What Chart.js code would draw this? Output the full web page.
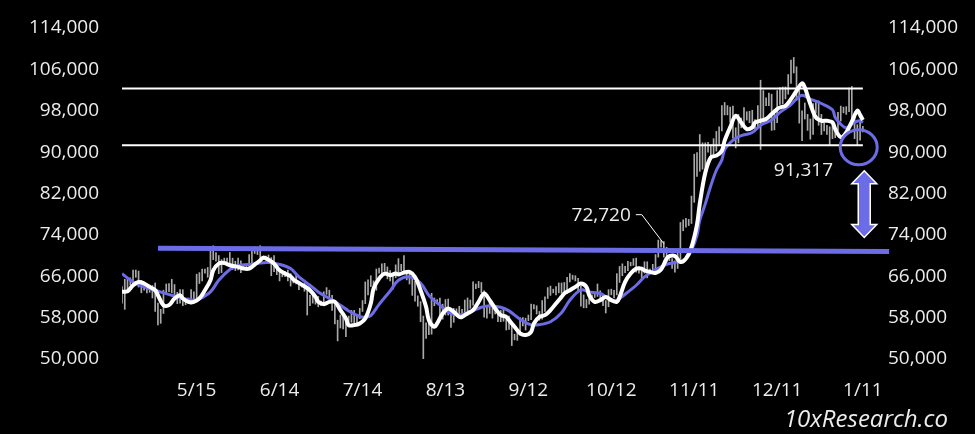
<!DOCTYPE html>
<html lang="en">
<head>
  <meta charset="UTF-8">
  <title>BTC range and support</title>
  <script src="https://cdn.jsdelivr.net/npm/chart.js"></script>
  <style>
    * { margin: 0; padding: 0; box-sizing: border-box; }
    body { background: #000; width: 975px; height: 434px; overflow: hidden; }
    .chart-box { position: relative; width: 975px; height: 434px; }
  </style>
</head>
<body>
  <div class="chart-box"><canvas id="btc"></canvas></div>

  <script>
    // x = days since 2024-04-18, one bar per day up to 2025-01-11
    const tickLabels = ['5/15', '6/14', '7/14', '8/13', '9/12', '10/12', '11/11', '12/11', '1/11'];
    const tickDays = [27, 57, 87, 117, 147, 177, 207, 237, 268];

    const lows = [
      60800,59600,63100,64300,64500,65800,63900,62800,63300,62800,62900,61800,59200,
      56600,56900,58800,62600,63000,62800,62200,60700,60800,60300,60500,60800,60600,61100,61400,64600,65100,66600,65800,66100,69200,68900,66500,66700,68500,68200,68300,67300,67100,67200,66700,
      67400,67300,67600,68500,70400,70200,68600,69200,69100,69200,66100,66900,66300,65100,65900,65900,65100,64100,64700,64500,63400,63900,63100,58500,60300,60800,60600,60100,60300,60600,
      62500,61800,59400,56800,53500,56000,55800,54300,56300,57100,56500,56600,57800,59200,60700,62400,64000,63300,63300,66600,65800,67000,65500,65100,63500,65700,66700,67100,66700,65300,64500,
      62300,61200,60200,57200,49500,54000,54700,54800,60300,60700,58400,57700,58500,58500,56100,57100,58800,58300,57900,58600,58800,59800,60400,63600,63800,62800,58100,57900,58800,57900,58700,
      57200,57200,57300,55600,55700,52600,53700,53600,54600,56400,55600,57400,57600,59700,58700,57500,57700,59200,61700,62300,62800,62400,62800,62700,62700,62700,64900,65400,65100,62900,
      60200,59900,59900,60600,61700,61900,62100,61800,60300,58900,60100,62400,61800,62400,64800,66100,66700,67100,68000,68100,66800,66600,65300,66600,65700,66500,66800,67400,69700,71600,69700,
      68800,69000,67500,66800,67500,69300,74800,75500,75800,76200,80300,85300,86300,86700,87100,90000,88700,89400,90200,91500,94100,97200,97200,95800,92700,90800,91800,94700,95100,96200,
      95700,94500,94000,94700,90500,96100,99000,99000,94200,94300,95700,99200,99300,100300,101200,103300,105300,100000,95600,92200,96400,94200,92500,93400,97600,95200,93400,94100,93400,91300,92600,
      92800,94200,96000,97600,97300,97800,96200,92600,91300,92300,93900
    ];
    const highs = [
      64000,65400,65400,65700,67200,67200,67000,65200,64800,63900,64300,64200,64700,
      60800,59600,63300,64500,64600,65400,64400,62900,63400,63400,61400,61800,63400,63000,66400,66700,67400,67400,67700,71500,71900,70600,70000,69200,69500,69500,70600,69500,68900,69500,69000,
      67900,68400,70200,71000,71700,71600,71900,69600,69900,70100,69600,70000,68400,67300,66400,66900,67200,66500,65700,66500,65000,64500,64600,63400,62300,62400,62300,62100,61200,63000,
      63800,63300,62300,60500,57500,58500,58400,58100,58300,59400,59400,58500,59800,61300,64900,65300,66100,65100,67400,67600,68400,68500,67800,67100,66100,68200,69400,68300,70000,66900,66800,
      65600,65000,62200,61100,58300,57000,57700,62700,61800,61500,61800,60600,61500,61600,59800,59800,59700,60200,59600,61400,61800,61400,64900,64500,65000,64800,63200,60200,61100,59900,59400,
      59000,59400,59800,58500,58300,56900,54800,55200,58000,58000,57900,58500,60600,60500,60300,59200,61300,62000,63800,64100,63500,64000,64700,64700,64800,65800,66500,66200,66100,65600,
      64100,62400,61500,62400,62400,62900,64500,63200,62500,61300,63400,63500,63300,66500,67900,68400,67900,68900,68700,69400,69500,67800,67500,68800,68800,67400,68300,70200,73000,72900,72700,
      71600,70000,69400,69000,70500,76400,76900,77200,77000,81500,89600,89900,93400,91800,91800,91900,91400,92600,94000,94900,99000,99600,99000,98700,98900,94700,97300,96600,98600,97800,
      97900,98100,96300,99000,103900,101900,100500,101400,101200,98200,101900,102500,102600,102600,105000,107800,108300,106500,102800,98000,99500,97300,96400,99400,99900,99900,97300,95600,95200,94900,96100,
      94900,97700,98900,98700,98800,102400,102700,97200,95300,95800,95000
    ];

    // [day, value] read along the white (fast) and blue (slow) averages
    const fastLine = [
      [0,63000],[2,63100],[4,64260],[6,64900],[8,64600],[10,63940],[12,63300],[13,62340],[15,60410],[17,60410],
      [19,61700],[21,62340],[22,61700],[24,61050],[26,61050],[28,61700],[30,63300],[32,65230],[33,67150],[35,68440],
      [37,68570],[39,68120],[41,67920],[42,67800],[44,67480],[46,67480],[48,68250],[50,69080],[51,69600],[53,69210],
      [55,68440],[57,67150],[59,66520],[61,66000],[62,65360],[64,64710],[66,64070],[68,63300],[70,62010],[71,61050],
      [73,60600],[75,61050],[77,61050],[79,59450],[81,57840],[82,56550],[84,56550],[86,56880],[88,57840],[90,60740],
      [91,63620],[93,65550],[95,66520],[97,66190],[99,66520],[100,66350],[102,66700],[104,66840],[106,65870],[108,63300],
      [110,60080],[111,57520],[113,56230],[114,56880],[116,58810],[118,59770],[120,59120],[122,58150],[123,58150],[125,58810],
      [127,59450],[129,61050],[131,62660],[133,61370],[135,59770],[137,58480],[139,58150],[140,57520],[142,56230],[144,54950],
      [146,54630],[148,55260],[149,56880],[151,58150],[153,58480],[155,59450],[157,60740],[159,62010],[160,62660],[162,63300],
      [164,63940],[166,64590],[168,63940],[169,62340],[171,61050],[173,61370],[175,62010],[177,61370],[179,61050],[180,62010],
      [182,64900],[184,66520],[186,67480],[188,67480],[189,67150],[191,66840],[193,66640],[195,67300],[197,69410],[198,69900],
      [200,69900],[202,68760],[204,69400],[206,71650],[208,76000],[209,80000],[211,86000],[213,89000],[215,89320],[217,90280],
      [218,92210],[220,94780],[222,97030],[224,95740],[226,94460],[228,94780],[229,95740],[231,96070],[233,96390],[235,97360],
      [237,98320],[238,98630],[240,98960],[242,100250],[244,101850],[246,103300],[247,102490],[249,99300],[251,96700],[253,96070],
      [255,96070],[257,95740],[258,94460],[260,92900],[262,93800],[264,95900],[266,98000],[267,97200],[268,96200]
    ];
    const slowLine = [
      [0,66500],[4,64900],[8,63940],[12,63300],[15,62790],[19,62140],[22,61700],[26,61370],[28,61600],[32,62970],
      [35,65230],[39,67300],[42,68100],[46,68250],[50,68570],[53,68650],[57,68300],[61,67480],[64,65870],[68,64260],
      [71,62970],[75,61700],[79,60410],[82,59280],[86,58220],[88,58100],[90,58400],[93,60560],[97,63140],[100,65230],
      [104,65900],[108,64700],[111,62300],[115,60400],[119,58800],[122,58500],[126,59100],[130,60000],[133,60300],[137,60000],
      [140,59300],[144,57700],[148,56600],[151,56650],[155,57200],[159,58960],[162,61370],[166,63360],[169,62970],[173,62660],
      [177,61370],[179,61370],[182,62530],[186,64260],[189,65870],[193,67290],[197,68310],[200,68670],[204,69400],[206,71000],
      [208,73900],[209,76800],[211,80000],[213,83500],[215,86500],[217,88500],[218,90500],[220,91800],[222,92700],[224,93200],
      [228,93800],[231,95200],[235,96200],[238,97700],[242,99200],[244,100300],[246,101000],[249,100250],[253,99400],[257,98200],
      [258,96700],[260,95400],[262,94700],[264,95400],[266,96000],[267,96070],[268,95740]
    ];

    // range lines and the support line
    const rangeLevels = [102300, 91317];
    const rangeSpan = [0, 268];
    const supportDays = [13, 277.5];
    const supportVals = [71400, 70800];

    const BLUE = '#6c6ce6';
    const TEXT = '#ececec';
    const FONT = '"Open Sans", sans-serif';

    const toXY = arr => arr.map(p => ({ x: p[0], y: p[1] }));

    const candles = lows.map((lo, i) => ({ x: i, y: [lo, highs[i]] }));

    const rangeSets = rangeLevels.map(v => ({
      type: 'line',
      data: rangeSpan.map(d => ({ x: d, y: v })),
      borderColor: '#ffffff',
      borderWidth: 2,
      pointRadius: 0,
      order: 4
    }));

    const notes = {
      id: 'notes',
      afterDatasetsDraw(chart) {
        const { ctx } = chart;
        const x = chart.scales.x, y = chart.scales.y;
        ctx.save();

        // 72,720 callout with leader
        const ex = x.getPixelForValue(196), ey = y.getPixelForValue(72300);
        const bx = ex - 22, by = ey - 29;
        ctx.strokeStyle = '#ffffff';
        ctx.lineWidth = 1;
        ctx.beginPath();
        ctx.moveTo(bx - 6, by);
        ctx.lineTo(bx, by);
        ctx.lineTo(ex, ey);
        ctx.stroke();
        ctx.fillStyle = TEXT;
        ctx.font = '19px ' + FONT;
        ctx.textAlign = 'right';
        ctx.textBaseline = 'middle';
        ctx.fillText('72,720', bx - 11, by + 1);

        // 91,317 label under the lower range line
        ctx.textAlign = 'center';
        ctx.fillText('91,317', x.getPixelForValue(246.5), y.getPixelForValue(rangeLevels[1]) + 25);

        // circle around the latest price
        ctx.strokeStyle = BLUE;
        ctx.lineWidth = 3;
        ctx.beginPath();
        ctx.ellipse(x.getPixelForValue(266.5), y.getPixelForValue(rangeLevels[1]) + 2, 18.5, 17.5, 0, 0, Math.PI * 2);
        ctx.stroke();

        // double arrow down to support
        const cx = x.getPixelForValue(268.5);
        const top = y.getPixelForValue(86400), bot = y.getPixelForValue(73500);
        const hw = 12.5, sw = 6, hh = 13;
        ctx.beginPath();
        ctx.moveTo(cx, top);
        ctx.lineTo(cx + hw, top + hh);
        ctx.lineTo(cx + sw, top + hh);
        ctx.lineTo(cx + sw, bot - hh);
        ctx.lineTo(cx + hw, bot - hh);
        ctx.lineTo(cx, bot);
        ctx.lineTo(cx - hw, bot - hh);
        ctx.lineTo(cx - sw, bot - hh);
        ctx.lineTo(cx - sw, top + hh);
        ctx.lineTo(cx - hw, top + hh);
        ctx.closePath();
        ctx.fillStyle = BLUE;
        ctx.fill();
        ctx.strokeStyle = '#ffffff';
        ctx.lineWidth = 1.5;
        ctx.stroke();

        // watermark
        ctx.fillStyle = TEXT;
        ctx.font = 'italic 24px ' + FONT;
        ctx.textAlign = 'right';
        ctx.textBaseline = 'alphabetic';
        ctx.fillText('10xResearch.co', 948, 427);
        ctx.restore();
      }
    };

    // lineHeight kept small so the tick padding does not push the plot top down
    const axisFont = { family: FONT, size: 19, lineHeight: 0.5 };

    new Chart(document.getElementById('btc'), {
      type: 'line',
      data: {
        datasets: [
          {
            type: 'line',
            data: supportDays.map((d, i) => ({ x: d, y: supportVals[i] })),
            borderColor: BLUE,
            borderWidth: 5,
            pointRadius: 0,
            clip: false,
            order: 1
          },
          {
            type: 'line',
            data: toXY(fastLine),
            borderColor: '#ffffff',
            borderWidth: 4,
            pointRadius: 0,
            tension: 0.35,
            order: 2
          },
          ...rangeSets,
          {
            type: 'line',
            data: toXY(slowLine),
            borderColor: BLUE,
            borderWidth: 3,
            pointRadius: 0,
            tension: 0.35,
            order: 5
          },
          {
            type: 'bar',
            data: candles,
            backgroundColor: 'rgba(225,225,225,0.75)',
            barThickness: 1,
            grouped: false,
            order: 10
          }
        ]
      },
      options: {
        responsive: true,
        maintainAspectRatio: false,
        animation: false,
        events: [],
        layout: { padding: { top: 28, right: 0, bottom: 0, left: 0 } },
        plugins: {
          legend: { display: false },
          tooltip: { enabled: false }
        },
        scales: {
          x: {
            type: 'linear',
            min: 0,
            max: 274.2,
            offset: false,
            grid: { display: false, drawTicks: false },
            border: { display: false },
            afterBuildTicks: scale => { scale.ticks = tickDays.map(v => ({ value: v })); },
            afterFit: scale => { scale.height = 75; },
            ticks: {
              autoSkip: false,
              maxRotation: 0,
              padding: 20,
              color: TEXT,
              font: { family: FONT, size: 19 },
              callback: (v, i) => tickLabels[i]
            }
          },
          y: {
            position: 'left',
            min: 50000,
            max: 114000,
            grid: { display: false, drawTicks: false },
            border: { display: false },
            afterFit: scale => { scale.width = 122; },
            ticks: {
              stepSize: 8000,
              padding: 23,
              color: TEXT,
              font: axisFont,
              callback: v => v.toLocaleString('en-US')
            }
          },
          y2: {
            position: 'right',
            min: 50000,
            max: 114000,
            grid: { display: false, drawTicks: false },
            border: { display: false },
            afterFit: scale => { scale.width = 95; },
            ticks: {
              stepSize: 8000,
              padding: 8,
              color: TEXT,
              font: axisFont,
              callback: v => v.toLocaleString('en-US')
            }
          }
        }
      },
      plugins: [notes]
    });
  </script>
</body>
</html>
